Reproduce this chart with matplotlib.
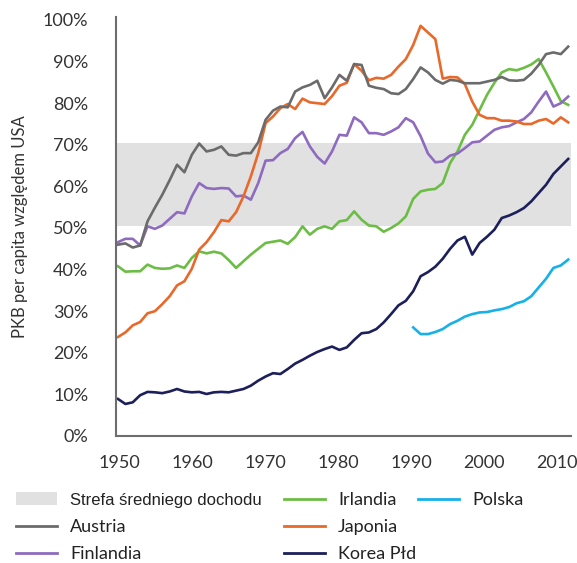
import matplotlib
matplotlib.use('Agg')
import matplotlib.pyplot as plt
import numpy as np
from matplotlib.lines import Line2D
from matplotlib.patches import Patch

plt.rcParams['font.family'] = ['Lato', 'DejaVu Sans']

# PKB per capita wzgledem USA (%)
years = np.arange(1950, 2012)
poland_years = np.arange(1990, 2012)

austria = [46.0, 46.3, 45.3, 45.8, 51.6, 54.9, 58.0, 61.5, 65.2, 63.4,
           67.6, 70.3, 68.4, 68.8, 69.6, 67.6, 67.4, 68.0, 68.0, 70.6,
           76.0, 78.2, 79.2, 79.0, 82.8, 83.8, 84.4, 85.4, 81.2, 83.8,
           86.8, 85.4, 89.4, 89.2, 84.2, 83.7, 83.4, 82.4, 82.2, 83.4,
           85.8, 88.6, 87.4, 85.6, 84.7, 85.6, 85.4, 84.8, 84.8, 84.8,
           85.2, 85.6, 86.3, 85.5, 85.4, 85.6, 87.1, 89.2, 91.8, 92.2,
           91.8, 93.6]
finland = [46.6, 47.4, 47.4, 45.8, 50.4, 49.8, 50.6, 52.2, 53.8, 53.5,
           57.6, 60.8, 59.6, 59.4, 59.6, 59.5, 57.6, 57.8, 56.8, 60.8,
           66.2, 66.3, 68.0, 69.0, 71.6, 73.1, 69.6, 67.1, 65.5, 68.4,
           72.4, 72.2, 76.6, 75.4, 72.8, 72.8, 72.4, 73.2, 74.2, 76.4,
           75.4, 72.1, 67.9, 65.8, 66.0, 67.4, 67.9, 69.2, 70.6, 70.8,
           72.2, 73.6, 74.2, 74.5, 75.4, 76.2, 77.8, 80.4, 82.8, 79.2,
           80.0, 81.6]
ireland = [40.8, 39.5, 39.6, 39.6, 41.2, 40.4, 40.2, 40.3, 41.0, 40.4,
           42.8, 44.4, 43.9, 44.3, 43.9, 42.3, 40.4, 42.0, 43.6, 45.0,
           46.4, 46.7, 47.0, 46.2, 47.8, 50.4, 48.4, 49.8, 50.4, 49.8,
           51.6, 51.9, 54.0, 52.0, 50.6, 50.4, 49.1, 50.0, 51.1, 52.8,
           57.0, 58.8, 59.2, 59.4, 60.8, 65.6, 68.4, 72.4, 74.8, 78.4,
           82.0, 84.9, 87.4, 88.2, 87.9, 88.5, 89.3, 90.6, 87.4, 84.0,
           80.5, 79.6]
japan = [23.8, 24.9, 26.6, 27.4, 29.5, 30.0, 31.7, 33.6, 36.2, 37.2,
         40.2, 44.8, 46.6, 49.0, 51.9, 51.6, 53.8, 57.6, 62.4, 68.0,
         75.2, 76.8, 78.8, 79.8, 78.6, 81.1, 80.2, 80.0, 79.8, 81.7,
         84.2, 84.9, 89.4, 87.8, 85.5, 86.1, 85.9, 86.8, 88.8, 90.6,
         94.0, 98.6, 97.0, 95.4, 85.9, 86.3, 86.2, 84.6, 80.4, 77.2,
         76.4, 76.4, 75.8, 75.8, 75.6, 75.0, 75.0, 75.8, 76.2, 75.1,
         76.6, 75.4]
korea = [8.9, 7.7, 8.1, 9.8, 10.6, 10.5, 10.3, 10.7, 11.3, 10.7,
         10.5, 10.6, 10.1, 10.5, 10.6, 10.5, 10.9, 11.3, 12.1, 13.3,
         14.3, 15.1, 14.9, 16.1, 17.4, 18.3, 19.3, 20.2, 20.9, 21.5,
         20.7, 21.3, 23.1, 24.7, 24.9, 25.7, 27.3, 29.3, 31.4, 32.5,
         34.8, 38.4, 39.4, 40.7, 42.6, 45.0, 47.0, 47.9, 43.6, 46.4,
         47.9, 49.6, 52.4, 53.0, 53.8, 54.8, 56.4, 58.4, 60.4, 63.0,
         64.8, 66.6]
poland = [26.1, 24.5, 24.5, 25.0, 25.7, 26.9, 27.7, 28.7, 29.3, 29.7,
          29.8, 30.2, 30.5, 31.0, 31.9, 32.4, 33.6, 35.7, 37.8, 40.4,
          41.0, 42.4]

decades = [1950, 1960, 1970, 1980, 1990, 2000, 2010]
band_low, band_high = 50.5, 70.5

c_band = '#e1e1e1'
c_austria = '#6b6b6b'
c_finland = '#8e6bbf'
c_ireland = '#6cbd45'
c_japan = '#e8692a'
c_korea = '#1c1f5a'
c_poland = '#15b1e8'

fig = plt.figure(figsize=(5.77, 5.63), dpi=100)
ax = fig.add_axes([116 / 577, 1 - 436 / 563, 455 / 577, 419 / 563])

ax.axhspan(band_low, band_high, color=c_band, lw=0, zorder=0)
lw = 1.9
ax.plot(years, korea, color=c_korea, lw=lw)
ax.plot(poland_years, poland, color=c_poland, lw=lw)
ax.plot(years, ireland, color=c_ireland, lw=lw)
ax.plot(years, finland, color=c_finland, lw=lw)
ax.plot(years, japan, color=c_japan, lw=lw)
ax.plot(years, austria, color=c_austria, lw=lw)

ax.set_xlim(1950 - 2 / 7.38, 1950 + 453 / 7.38)
ax.set_ylim(0, 100 + 3 / 4.16)
# etykiety lat lekko scisniete jak w oryginale
tick_pos = [1950 + (1 + 7.3 * (d - 1950)) / 7.38 for d in decades]
ax.set_xticks(tick_pos)
ax.set_xticklabels([str(d) for d in decades])
ax.set_yticks(range(0, 101, 10))
ax.set_yticklabels([f'{v}%' for v in range(0, 101, 10)])
ax.tick_params(axis='y', length=0, pad=20, labelsize=13, labelcolor='#333333')
ax.tick_params(axis='x', length=0, pad=14, labelsize=13, labelcolor='#333333')

for s in ['top', 'right']:
    ax.spines[s].set_visible(False)
for s in ['left', 'bottom']:
    ax.spines[s].set_color('#6e6e6e')
    ax.spines[s].set_linewidth(1.5)

ax.set_ylabel('PKB per capita względem USA', fontsize=12, color='#333333')
ax.yaxis.set_label_coords((28 - 116) / 455, 0.5)

# legenda w trzech kolumnach
leg_kw = dict(loc='upper left', frameon=False, fontsize=13, borderpad=0,
              borderaxespad=0, handlelength=2.27, handletextpad=0.72,
              labelspacing=0.62, labelcolor='#222222')
top = 1 - 492 / 563
leg1 = fig.legend([Patch(facecolor=c_band, lw=0),
                   Line2D([], [], color=c_austria, lw=2),
                   Line2D([], [], color=c_finland, lw=2)],
                  ['Strefa średniego dochodu', 'Austria', 'Finlandia'],
                  bbox_to_anchor=(16 / 577, top), **leg_kw)
leg1.get_texts()[0].set_fontfamily('Liberation Sans')
leg1.get_texts()[0].set_fontsize(12)
leg2 = fig.legend([Line2D([], [], color=c_ireland, lw=2),
                   Line2D([], [], color=c_japan, lw=2),
                   Line2D([], [], color=c_korea, lw=2)],
                  ['Irlandia', 'Japonia', 'Korea Płd'],
                  bbox_to_anchor=(284 / 577, top), **leg_kw)
leg3 = fig.legend([Line2D([], [], color=c_poland, lw=2)], ['Polska'],
                  bbox_to_anchor=(418 / 577, top), **leg_kw)

fig.savefig('out.png', dpi=100)
